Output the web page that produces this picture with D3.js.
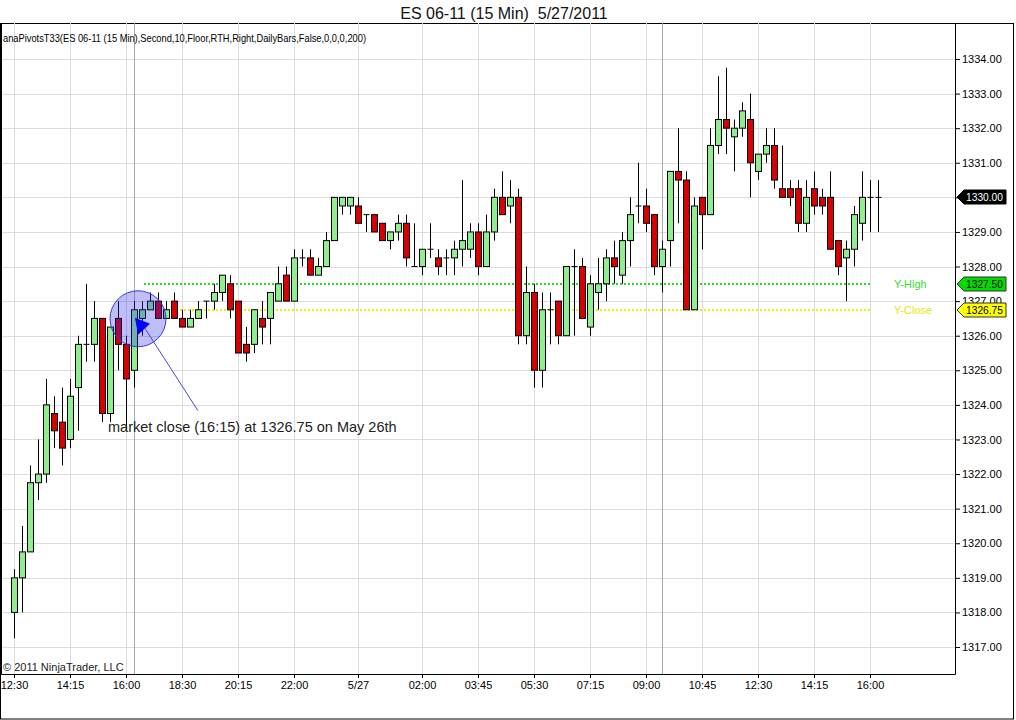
<!DOCTYPE html>
<html>
<head>
<meta charset="utf-8">
<script src="https://cdn.jsdelivr.net/npm/d3@7"></script>
<style>
  html, body { margin: 0; padding: 0; background: #fff; }
  svg { display: block; font-family: "Liberation Sans", Arial, sans-serif; }
</style>
</head>
<body>
<svg id="chart" width="1016" height="720"></svg>
<script>
// ES 06-11 15 分足 (NinjaTrader 風) を D3 で再現する

// ---------- データ ----------
// バー番号 0 = 5/26 12:30、1 本 15 分
const opens = [
  1318.0, 1319.0, 1319.75, 1321.75, 1322.0, 1323.75, 1323.5, 1323.0, 1324.5, 1325.75,
  1325.75, 1326.5, 1323.75, 1326.5, 1325.75, 1325.0, 1326.5, 1326.75, 1327.0, 1326.5,
  1327.0, 1326.5, 1326.25, 1326.5, 1327.0, 1327.0, 1327.25, 1327.5, 1327.0, 1325.75,
  1325.75, 1326.5, 1326.5, 1327.0, 1327.75, 1327.0, 1328.25, 1328.25, 1327.75, 1328.0,
  1328.75, 1329.75, 1329.75, 1329.75, 1329.5, 1329.5, 1329.25, 1328.75, 1329.0, 1329.25,
  1328.0, 1328.0, 1328.5, 1328.25, 1328.25, 1328.25, 1328.5, 1328.5, 1329.0, 1328.0,
  1329.0, 1330.0, 1329.75, 1330.0, 1326.0, 1327.25, 1325.0, 1326.75, 1327.0, 1326.0,
  1328.0, 1328.0, 1326.25, 1327.25, 1327.5, 1328.25, 1327.75, 1328.75, 1329.75, 1329.75,
  1329.5, 1328.0, 1328.75, 1330.75, 1330.5, 1326.75, 1330.0, 1329.5, 1331.5, 1332.25,
  1331.75, 1332.0, 1332.25, 1330.75, 1331.25, 1331.5, 1330.25, 1330.25, 1330.25, 1329.25,
  1330.25, 1330.0, 1330.0, 1328.75, 1328.25, 1328.5, 1329.25, 1330.0, 1330.0
];
const highs = [
  1319.25, 1320.5, 1322.25, 1323.0, 1324.75, 1324.25, 1324.5, 1324.75, 1326.0, 1327.5,
  1327.0, 1326.5, 1326.25, 1327.0, 1326.0, 1327.0, 1327.0, 1327.25, 1327.25, 1327.0,
  1327.25, 1326.75, 1326.75, 1327.0, 1327.0, 1327.5, 1327.75, 1327.75, 1327.0, 1326.25,
  1326.75, 1327.0, 1327.25, 1328.0, 1328.0, 1328.5, 1328.5, 1328.5, 1328.25, 1329.0,
  1330.0, 1330.0, 1330.0, 1330.0, 1329.5, 1329.5, 1329.25, 1329.0, 1329.5, 1329.5,
  1329.25, 1328.5, 1329.25, 1328.5, 1328.5, 1328.75, 1330.5, 1329.25, 1329.25, 1329.5,
  1330.25, 1330.75, 1330.5, 1330.25, 1328.0, 1327.5, 1327.25, 1327.25, 1327.0, 1328.0,
  1328.5, 1328.25, 1327.75, 1328.25, 1328.5, 1328.75, 1329.0, 1330.0, 1331.0, 1330.25,
  1329.5, 1328.75, 1330.75, 1332.0, 1330.75, 1330.0, 1330.0, 1332.0, 1333.5, 1333.75,
  1332.25, 1332.75, 1333.0, 1331.25, 1332.0, 1332.0, 1331.5, 1330.5, 1330.5, 1330.5,
  1330.75, 1330.25, 1330.75, 1328.75, 1328.75, 1329.75, 1330.75, 1330.5, 1330.5
];
const lows = [
  1317.25, 1318.0, 1319.75, 1321.25, 1321.75, 1322.75, 1322.25, 1322.75, 1323.25, 1325.25,
  1325.25, 1323.5, 1323.5, 1325.0, 1323.25, 1324.5, 1326.0, 1326.75, 1326.5, 1326.5,
  1326.5, 1326.25, 1326.25, 1326.5, 1326.5, 1326.75, 1327.0, 1326.5, 1325.5, 1325.25,
  1325.5, 1325.75, 1325.75, 1327.0, 1327.0, 1327.0, 1328.0, 1327.75, 1327.75, 1328.0,
  1328.75, 1329.5, 1329.5, 1329.25, 1329.0, 1329.0, 1328.75, 1328.5, 1328.75, 1328.0,
  1328.0, 1327.75, 1328.25, 1327.75, 1327.75, 1327.75, 1328.0, 1328.25, 1327.75, 1328.0,
  1328.75, 1329.5, 1329.25, 1325.75, 1325.75, 1324.5, 1324.5, 1325.75, 1325.75, 1326.0,
  1326.0, 1326.5, 1326.0, 1326.75, 1327.0, 1327.5, 1327.5, 1328.0, 1329.25, 1329.0,
  1327.75, 1327.25, 1328.0, 1329.25, 1326.75, 1326.75, 1328.5, 1329.5, 1331.25, 1331.25,
  1330.75, 1331.75, 1330.0, 1330.5, 1331.0, 1330.25, 1330.0, 1329.75, 1329.0, 1329.0,
  1329.5, 1329.5, 1328.5, 1327.75, 1327.0, 1328.0, 1328.75, 1329.0, 1329.0
];
const closes = [
  1319.0, 1319.75, 1321.75, 1322.0, 1324.0, 1323.25, 1322.75, 1324.25, 1325.75, 1325.75,
  1326.5, 1323.75, 1326.25, 1325.75, 1324.75, 1326.75, 1326.75, 1327.0, 1326.5, 1326.75,
  1326.5, 1326.25, 1326.5, 1326.75, 1327.0, 1327.25, 1327.75, 1326.75, 1325.5, 1325.5,
  1326.75, 1326.25, 1327.25, 1327.5, 1327.0, 1328.25, 1328.25, 1327.75, 1328.0, 1328.75,
  1330.0, 1330.0, 1330.0, 1329.25, 1329.5, 1329.0, 1328.75, 1329.0, 1329.25, 1328.25,
  1328.0, 1328.5, 1328.5, 1328.0, 1328.25, 1328.5, 1328.75, 1329.0, 1328.0, 1329.0,
  1330.0, 1329.5, 1330.0, 1326.0, 1327.25, 1325.0, 1326.75, 1326.75, 1326.0, 1328.0,
  1328.0, 1326.5, 1327.5, 1327.5, 1328.25, 1328.0, 1328.75, 1329.5, 1329.75, 1329.25,
  1328.0, 1328.5, 1330.75, 1330.5, 1326.75, 1329.75, 1329.5, 1331.5, 1332.25, 1332.0,
  1332.0, 1332.5, 1331.0, 1331.25, 1331.5, 1330.5, 1330.0, 1330.0, 1329.25, 1330.0,
  1329.75, 1329.75, 1328.5, 1328.0, 1328.5, 1329.5, 1330.0, 1330.0, 1330.0
];

// 時間軸ラベル(バー番号と表示文字)
const timeTickBars = [0, 7, 14, 21, 28, 35, 43, 51, 58, 65, 72, 79, 86, 93, 100, 107];
const timeTickLabels = ["12:30", "14:15", "16:00", "18:30", "20:15", "22:00", "5/27", "02:00",
  "03:45", "05:30", "07:15", "09:00", "10:45", "12:30", "14:15", "16:00"];
// セッション区切り(16:15 の引け、09:30 の寄り)
const sessionBars = [15, 81];

// 価格軸
const priceTicks = [1317, 1318, 1319, 1320, 1321, 1322, 1323, 1324, 1325, 1326,
  1327, 1328, 1329, 1330, 1331, 1332, 1333, 1334];

// ピボット線(前日高値・前日終値)
const pivotNames = ["Y-High", "Y-Close"];
const pivotValues = [1327.5, 1326.75];
const pivotStartBar = 16;
const lastPrice = closes[closes.length - 1];

// 注記
const noteBar = 15;
const noteText = "market close (16:15) at 1326.75 on May 26th";

// ---------- 見た目 ----------
const W = 1016, H = 720;
const plot = { left: 1, top: 23, right: 955, bottom: 674 };
const UP = "#90ee90", DOWN = "#d80000";
const PIVOT_COLOR = ["#1fe01f", "#eeee00"];
const PIVOT_TEXT = ["#33dd33", "#e8e800"];
const PIVOT_TAG = ["#00dd00", "#ffff00"];

const svg = d3.select("#chart");
svg.append("rect").attr("width", W).attr("height", H).attr("fill", "#fff");

const x = d3.scaleLinear().domain([0, 108]).range([14, 878]);
const y = d3.scaleLinear().domain([1317, 1334]).range([647, 59]);

const bars = d3.range(opens.length).map((i) => ({
  i, o: opens[i], h: highs[i], l: lows[i], c: closes[i]
}));

// 外枠
svg.append("rect")
  .attr("x", 0.5).attr("y", plot.top + 0.5)
  .attr("width", 1013).attr("height", H - plot.top - 1.5)
  .attr("fill", "none").attr("stroke", "#000");

// タイトル
svg.append("text")
  .attr("x", 504).attr("y", 19)
  .attr("text-anchor", "middle")
  .attr("font-size", 16)
  .attr("fill", "#111")
  .attr("xml:space", "preserve")
  .text("ES 06-11 (15 Min)  5/27/2011");

// ---------- グリッド ----------
const grid = svg.append("g");
grid.selectAll("line.h")
  .data(priceTicks)
  .join("line")
  .attr("class", "h")
  .attr("x1", plot.left).attr("x2", plot.right)
  .attr("y1", (d) => Math.round(y(d)) + 0.5).attr("y2", (d) => Math.round(y(d)) + 0.5)
  .attr("stroke", "#dcdcdc");
grid.selectAll("line.v")
  .data(timeTickBars)
  .join("line")
  .attr("class", "v")
  .attr("x1", (d) => Math.round(x(d)) + 0.5).attr("x2", (d) => Math.round(x(d)) + 0.5)
  .attr("y1", plot.top).attr("y2", plot.bottom)
  .attr("stroke", "#dcdcdc");
grid.selectAll("line.s")
  .data(sessionBars)
  .join("line")
  .attr("class", "s")
  .attr("x1", (d) => Math.round(x(d)) + 0.5).attr("x2", (d) => Math.round(x(d)) + 0.5)
  .attr("y1", plot.top).attr("y2", plot.bottom)
  .attr("stroke", "#a8a8a8");

// 指標名
svg.append("text")
  .attr("x", 3).attr("y", 42)
  .attr("font-size", 11)
  .attr("textLength", 363)
  .attr("lengthAdjust", "spacingAndGlyphs")
  .text("anaPivotsT33(ES 06-11 (15 Min),Second,10,Floor,RTH,Right,DailyBars,False,0,0,0,200)");

// ---------- ピボット線 ----------
const piv = svg.append("g");
piv.selectAll("line")
  .data(pivotValues)
  .join("line")
  .attr("x1", x(pivotStartBar) + 2).attr("x2", x(107))
  .attr("y1", (d) => Math.round(y(d))).attr("y2", (d) => Math.round(y(d)))
  .attr("stroke", (d, i) => PIVOT_COLOR[i])
  .attr("stroke-width", 2)
  .attr("stroke-dasharray", "2,2");
piv.selectAll("text")
  .data(pivotValues)
  .join("text")
  .attr("x", 894)
  .attr("y", (d) => y(d) + 4)
  .attr("font-size", 11)
  .attr("fill", (d, i) => PIVOT_TEXT[i])
  .text((d, i) => pivotNames[i]);

// ---------- ローソク足 ----------
const candle = svg.append("g")
  .selectAll("g")
  .data(bars)
  .join("g")
  .attr("transform", (d) => `translate(${Math.round(x(d.i)) + 0.5},0)`);

candle.append("line")
  .attr("y1", (d) => y(d.h)).attr("y2", (d) => y(d.l))
  .attr("stroke", "#000");

candle.filter((d) => d.o !== d.c)
  .append("rect")
  .attr("x", -3)
  .attr("width", 6)
  .attr("y", (d) => y(Math.max(d.o, d.c)))
  .attr("height", (d) => Math.abs(y(d.o) - y(d.c)))
  .attr("fill", (d) => (d.c > d.o ? UP : DOWN))
  .attr("stroke", "#000");

candle.filter((d) => d.o === d.c)
  .append("line")
  .attr("x1", -3).attr("x2", 3)
  .attr("y1", (d) => y(d.c)).attr("y2", (d) => y(d.c))
  .attr("stroke", "#000");

// ---------- 注記(円と矢印) ----------
const nx = x(noteBar), ny = y(closes[noteBar]);
svg.append("circle")
  .attr("cx", nx + 4).attr("cy", ny + 9)
  .attr("r", 28)
  .attr("fill", "rgba(40,40,235,0.3)")
  .attr("stroke", "#3a3ad0");
svg.append("line")
  .attr("x1", nx + 8).attr("y1", ny + 14)
  .attr("x2", nx + 64).attr("y2", ny + 101)
  .attr("stroke", "#4848e0");
svg.append("path")
  .attr("d", `M${nx + 1},${ny + 8} L${nx + 16},${ny + 14} L${nx + 4},${ny + 25} Z`)
  .attr("fill", "#0000ff");
svg.append("text")
  .attr("x", 108).attr("y", ny + 122)
  .attr("font-size", 14.5)
  .attr("fill", "#222")
  .text(noteText);

// ---------- 軸 ----------
// 最終値のタグが重なる目盛りは文字を出さない
const yAxis = svg.append("g")
  .attr("transform", `translate(${plot.right},0)`)
  .call(d3.axisRight(y).tickValues(priceTicks)
    .tickFormat((d) => (d === lastPrice ? "" : d3.format(".2f")(d)))
    .tickSize(5).tickPadding(2));
yAxis.select(".domain").remove();
yAxis.selectAll("text").attr("font-size", 11).attr("font-family", "Liberation Sans, Arial");

const xAxis = svg.append("g")
  .attr("transform", `translate(0,${plot.bottom})`)
  .call(d3.axisBottom(x).tickValues(timeTickBars).tickFormat((d, i) => timeTickLabels[i]).tickSize(4).tickPadding(3));
xAxis.select(".domain").remove();
xAxis.selectAll("text").attr("font-size", 11).attr("font-family", "Liberation Sans, Arial");

// 描画領域の枠
svg.append("path")
  .attr("d", `M${plot.left + 0.5},${plot.top + 0.5} V${plot.bottom + 0.5} H${plot.right + 0.5} V${plot.top + 0.5}`)
  .attr("fill", "none").attr("stroke", "#000");

// 価格タグ(右軸)
const tags = pivotValues.map((v, i) => ({ v, fill: PIVOT_TAG[i], color: "#000" }))
  .concat([{ v: lastPrice, fill: "#000", color: "#fff" }]);
const tag = svg.append("g")
  .selectAll("g")
  .data(tags)
  .join("g")
  .attr("transform", (d) => `translate(${plot.right + 2},${Math.round(y(d.v))})`);
tag.append("path")
  .attr("d", "M0,0 L7,-7 H49 V7 H7 Z")
  .attr("fill", (d) => d.fill)
  .attr("stroke", (d) => (d.fill === "#000" ? "#000" : "#333"));
tag.append("text")
  .attr("x", 9).attr("y", 4)
  .attr("font-size", 11)
  .attr("textLength", 37)
  .attr("lengthAdjust", "spacingAndGlyphs")
  .attr("fill", (d) => d.color)
  .text((d) => d3.format(".2f")(d.v));

// 著作権表示
svg.append("text")
  .attr("x", 3).attr("y", 671)
  .attr("font-size", 11)
  .attr("fill", "#222")
  .text("© 2011 NinjaTrader, LLC");
</script>
</body>
</html>
